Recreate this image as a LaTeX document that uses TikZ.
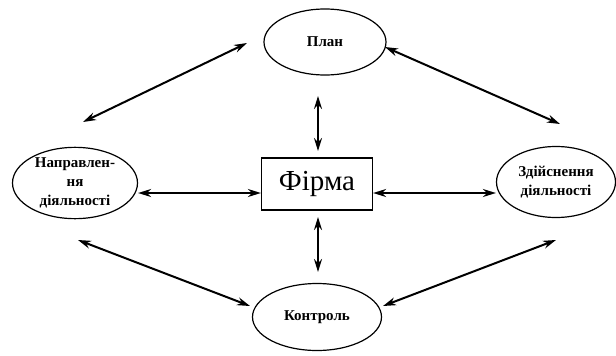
\documentclass[tikz,border=0pt]{standalone}
\usepackage{fontspec}
\setmainfont{Liberation Serif}
\usetikzlibrary{shapes.geometric,arrows.meta}
\begin{document}
\begin{tikzpicture}[x=1pt,y=-1pt,
  oval/.style={draw,ellipse,line width=1.2pt,inner sep=0pt,font=\bfseries\fontsize{15}{19}\selectfont,align=center},
  link/.style={line width=2pt,{Stealth[length=13pt,width=8pt]}-{Stealth[length=13pt,width=8pt]}}]
\useasboundingbox (0,0) rectangle (616,356);
\node[oval,minimum width=122pt,minimum height=66pt] (plan) at (325,42) {План};
\node[oval,minimum width=125pt,minimum height=70pt] (napr) at (75,183) {Направлен-\\ня\\діяльності};
\node[oval,minimum width=119pt,minimum height=71pt] (zd) at (556,182) {Здійснення\\діяльності};
\node[oval,minimum width=129pt,minimum height=67pt] (kon) at (317,317) {Контроль};
\node[draw,line width=1.2pt,minimum width=111pt,minimum height=52pt,inner sep=0pt,font=\fontsize{29}{32}\selectfont] (f) at (317,184) {Фірма};
\coordinate (a1) at (83,122); \coordinate (a2) at (247,43);
\coordinate (b1) at (385,47); \coordinate (b2) at (560,124);
\coordinate (c1) at (78,240); \coordinate (c2) at (250,306);
\coordinate (d1) at (383,306); \coordinate (d2) at (556,240);
\coordinate (e1) at (318,96); \coordinate (e2) at (318,151);
\coordinate (g1) at (318,217); \coordinate (g2) at (318,272);
\draw[link] (a1) -- (a2);
\draw[link] (b1) -- (b2);
\draw[link] (c1) -- (c2);
\draw[link] (d1) -- (d2);
\draw[link] (e1) -- (e2);
\draw[link] (g1) -- (g2);
\draw[link] (napr.east |- 0,193) -- (f.west |- 0,193);
\draw[link] (f.east |- 0,193) -- (zd.west |- 0,193);
\end{tikzpicture}
\end{document}
